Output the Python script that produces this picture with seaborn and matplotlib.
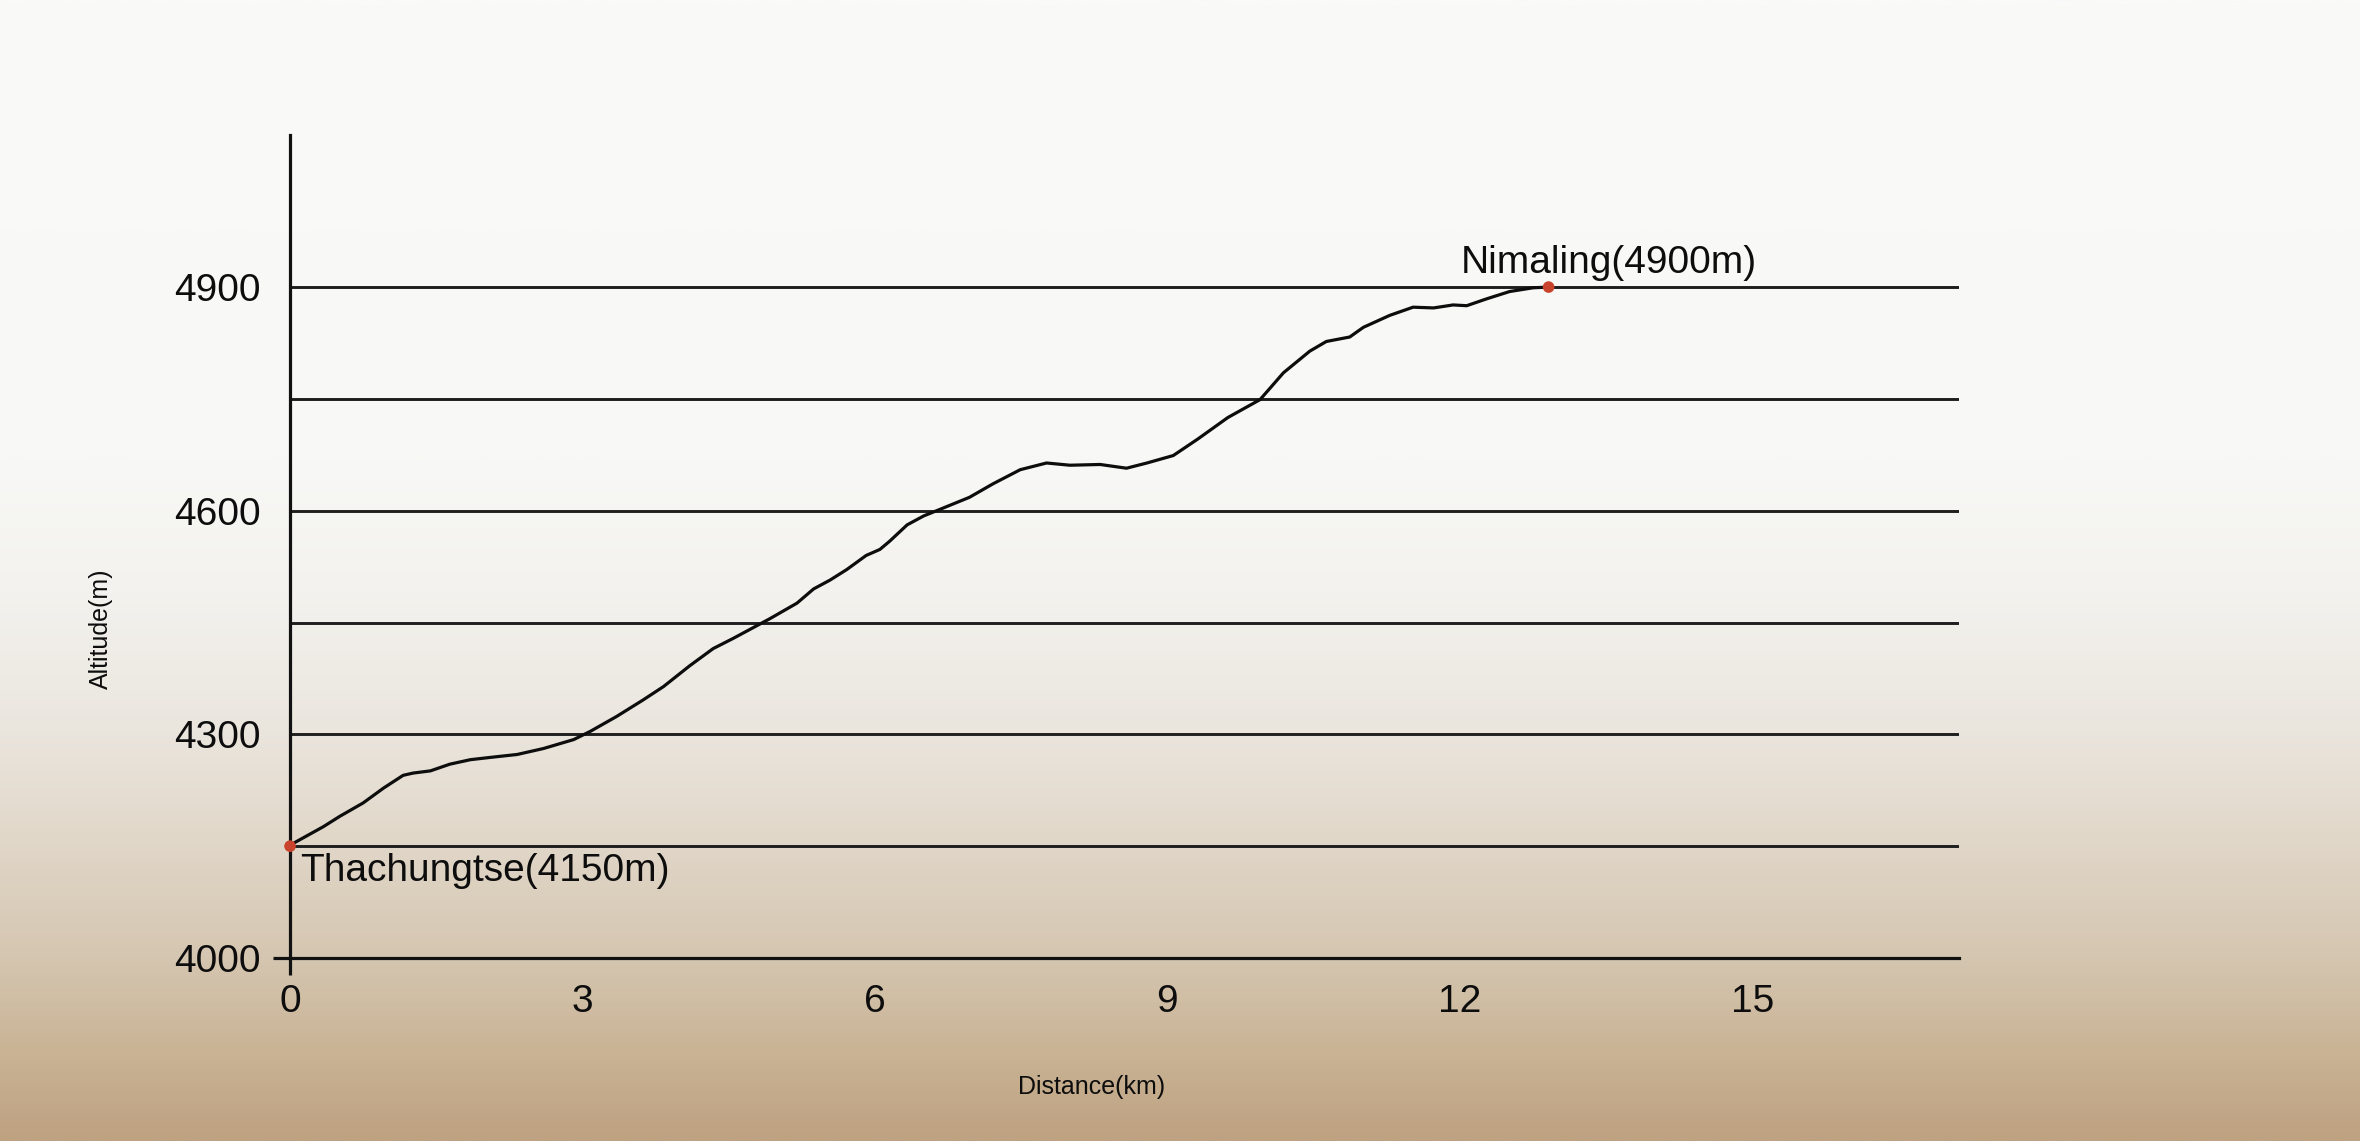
import numpy as np
import matplotlib.pyplot as plt
import seaborn as sns
from matplotlib.colors import LinearSegmentedColormap

# trail profile
distance_km = [0, 0.05, 0.34, 0.51, 0.75, 0.96, 1.16, 1.26, 1.44, 1.64, 1.85,
               2.05, 2.33, 2.60, 2.91, 3.08, 3.35, 3.62, 3.83, 4.10, 4.34,
               4.55, 4.92, 5.20, 5.37, 5.54, 5.71, 5.91, 6.05, 6.15, 6.33,
               6.50, 6.67, 6.97, 7.21, 7.49, 7.76, 8.00, 8.31, 8.58, 8.79,
               9.06, 9.31, 9.62, 9.95, 10.19, 10.46, 10.63, 10.87, 11.01,
               11.28, 11.52, 11.73, 11.93, 12.07, 12.27, 12.51, 12.75, 12.91]
altitude_m = [4150, 4155, 4176, 4190, 4208, 4228, 4245, 4248, 4251, 4260, 4266,
              4269, 4273, 4281, 4293, 4304, 4324, 4346, 4364, 4392, 4415,
              4429, 4455, 4476, 4495, 4507, 4521, 4540, 4548, 4559, 4581,
              4593, 4602, 4618, 4636, 4655, 4664, 4661, 4662, 4657, 4664,
              4674, 4696, 4725, 4749, 4785, 4814, 4827, 4833, 4846,
              4862, 4873, 4872, 4876, 4875, 4884, 4894, 4899, 4900]

grid_levels = [4000, 4150, 4300, 4450, 4600, 4750, 4900]
ytick_labels = ['4000', '', '4300', '', '4600', '', '4900']
xticks = [0, 3, 6, 9, 12, 15]
xtick_labels = ['0', '3', '6', '9', '12', '15']
start_name = 'Thachungtse(4150m)'
end_name = 'Nimaling(4900m)'

sns.set_theme(style='white')
plt.rcParams['font.family'] = ['Liberation Sans', 'DejaVu Sans']

fig = plt.figure(figsize=(23.6, 11.41), dpi=100)

## paper-like background
paper = LinearSegmentedColormap.from_list('paper', [
    (0.00, '#fafaf9'), (0.40, '#f8f8f6'), (0.52, '#f3f2ee'),
    (0.62, '#ece8e1'), (0.72, '#e3dacd'), (0.84, '#d5c6b1'),
    (0.93, '#c8b293'), (1.00, '#bea282')])
bg = fig.add_axes([0, 0, 1, 1], zorder=0)
bg.imshow(np.linspace(0, 1, 600)[:, None], aspect='auto', cmap=paper,
          extent=[0, 1, 0, 1])
bg.axis('off')

## profile
ax = fig.add_axes([0.1229, 0.1604, 0.7072, 0.7213], zorder=1)
ax.patch.set_alpha(0)

sns.lineplot(x=distance_km, y=altitude_m, ax=ax, color='#0d0d0d',
             linewidth=2.3, sort=False, estimator=None, zorder=4,
             solid_joinstyle='round', solid_capstyle='round')
sns.scatterplot(x=[distance_km[0], distance_km[-1]],
                y=[altitude_m[0], altitude_m[-1]],
                ax=ax, color='#c9432c', s=70, edgecolor='none', zorder=5,
                clip_on=False)

ax.set_xlim(0, 17.12)
ax.set_ylim(4000, 5104)

ax.set_yticks(grid_levels)
ax.set_yticklabels(ytick_labels)
ax.set_xticks(xticks)
ax.set_xticklabels(xtick_labels)
ax.xaxis.remove_overlapping_locs = False
ax.yaxis.remove_overlapping_locs = False
ax.set_yticks([4000], minor=True)
ax.set_xticks([0], minor=True)

ax.yaxis.grid(True, color='#1e1e1e', linewidth=2.1)
ax.xaxis.grid(False)

for side in ['top', 'right']:
    ax.spines[side].set_visible(False)
for side in ['left', 'bottom']:
    ax.spines[side].set_color('#111111')
    ax.spines[side].set_linewidth(2.3)

ax.tick_params(which='major', length=0, labelsize=28, labelcolor='#0d0d0d',
               bottom=True, left=True)
ax.tick_params(axis='y', which='major', pad=21)
ax.tick_params(axis='x', which='major', pad=19)
ax.tick_params(which='minor', length=12, width=2.3, color='#111111',
               direction='out', bottom=True, left=True)

ax.set_xlabel('Distance(km)', fontsize=18, color='#0d0d0d')
ax.set_ylabel('Altitude(m)', fontsize=18, color='#0d0d0d')
ax.xaxis.set_label_coords(0.48, -0.142)
ax.yaxis.set_label_coords(-0.106, 0.40)

ax.annotate(start_name, (distance_km[0], altitude_m[0]), xytext=(7.5, -25),
            textcoords='offset points', fontsize=28, color='#0d0d0d',
            ha='left', va='baseline', zorder=6)
ax.annotate(end_name, (distance_km[-1], altitude_m[-1]), xytext=(-63, 10),
            textcoords='offset points', fontsize=28, color='#0d0d0d',
            ha='left', va='baseline', zorder=6)

fig.savefig('out.png', dpi=100)
